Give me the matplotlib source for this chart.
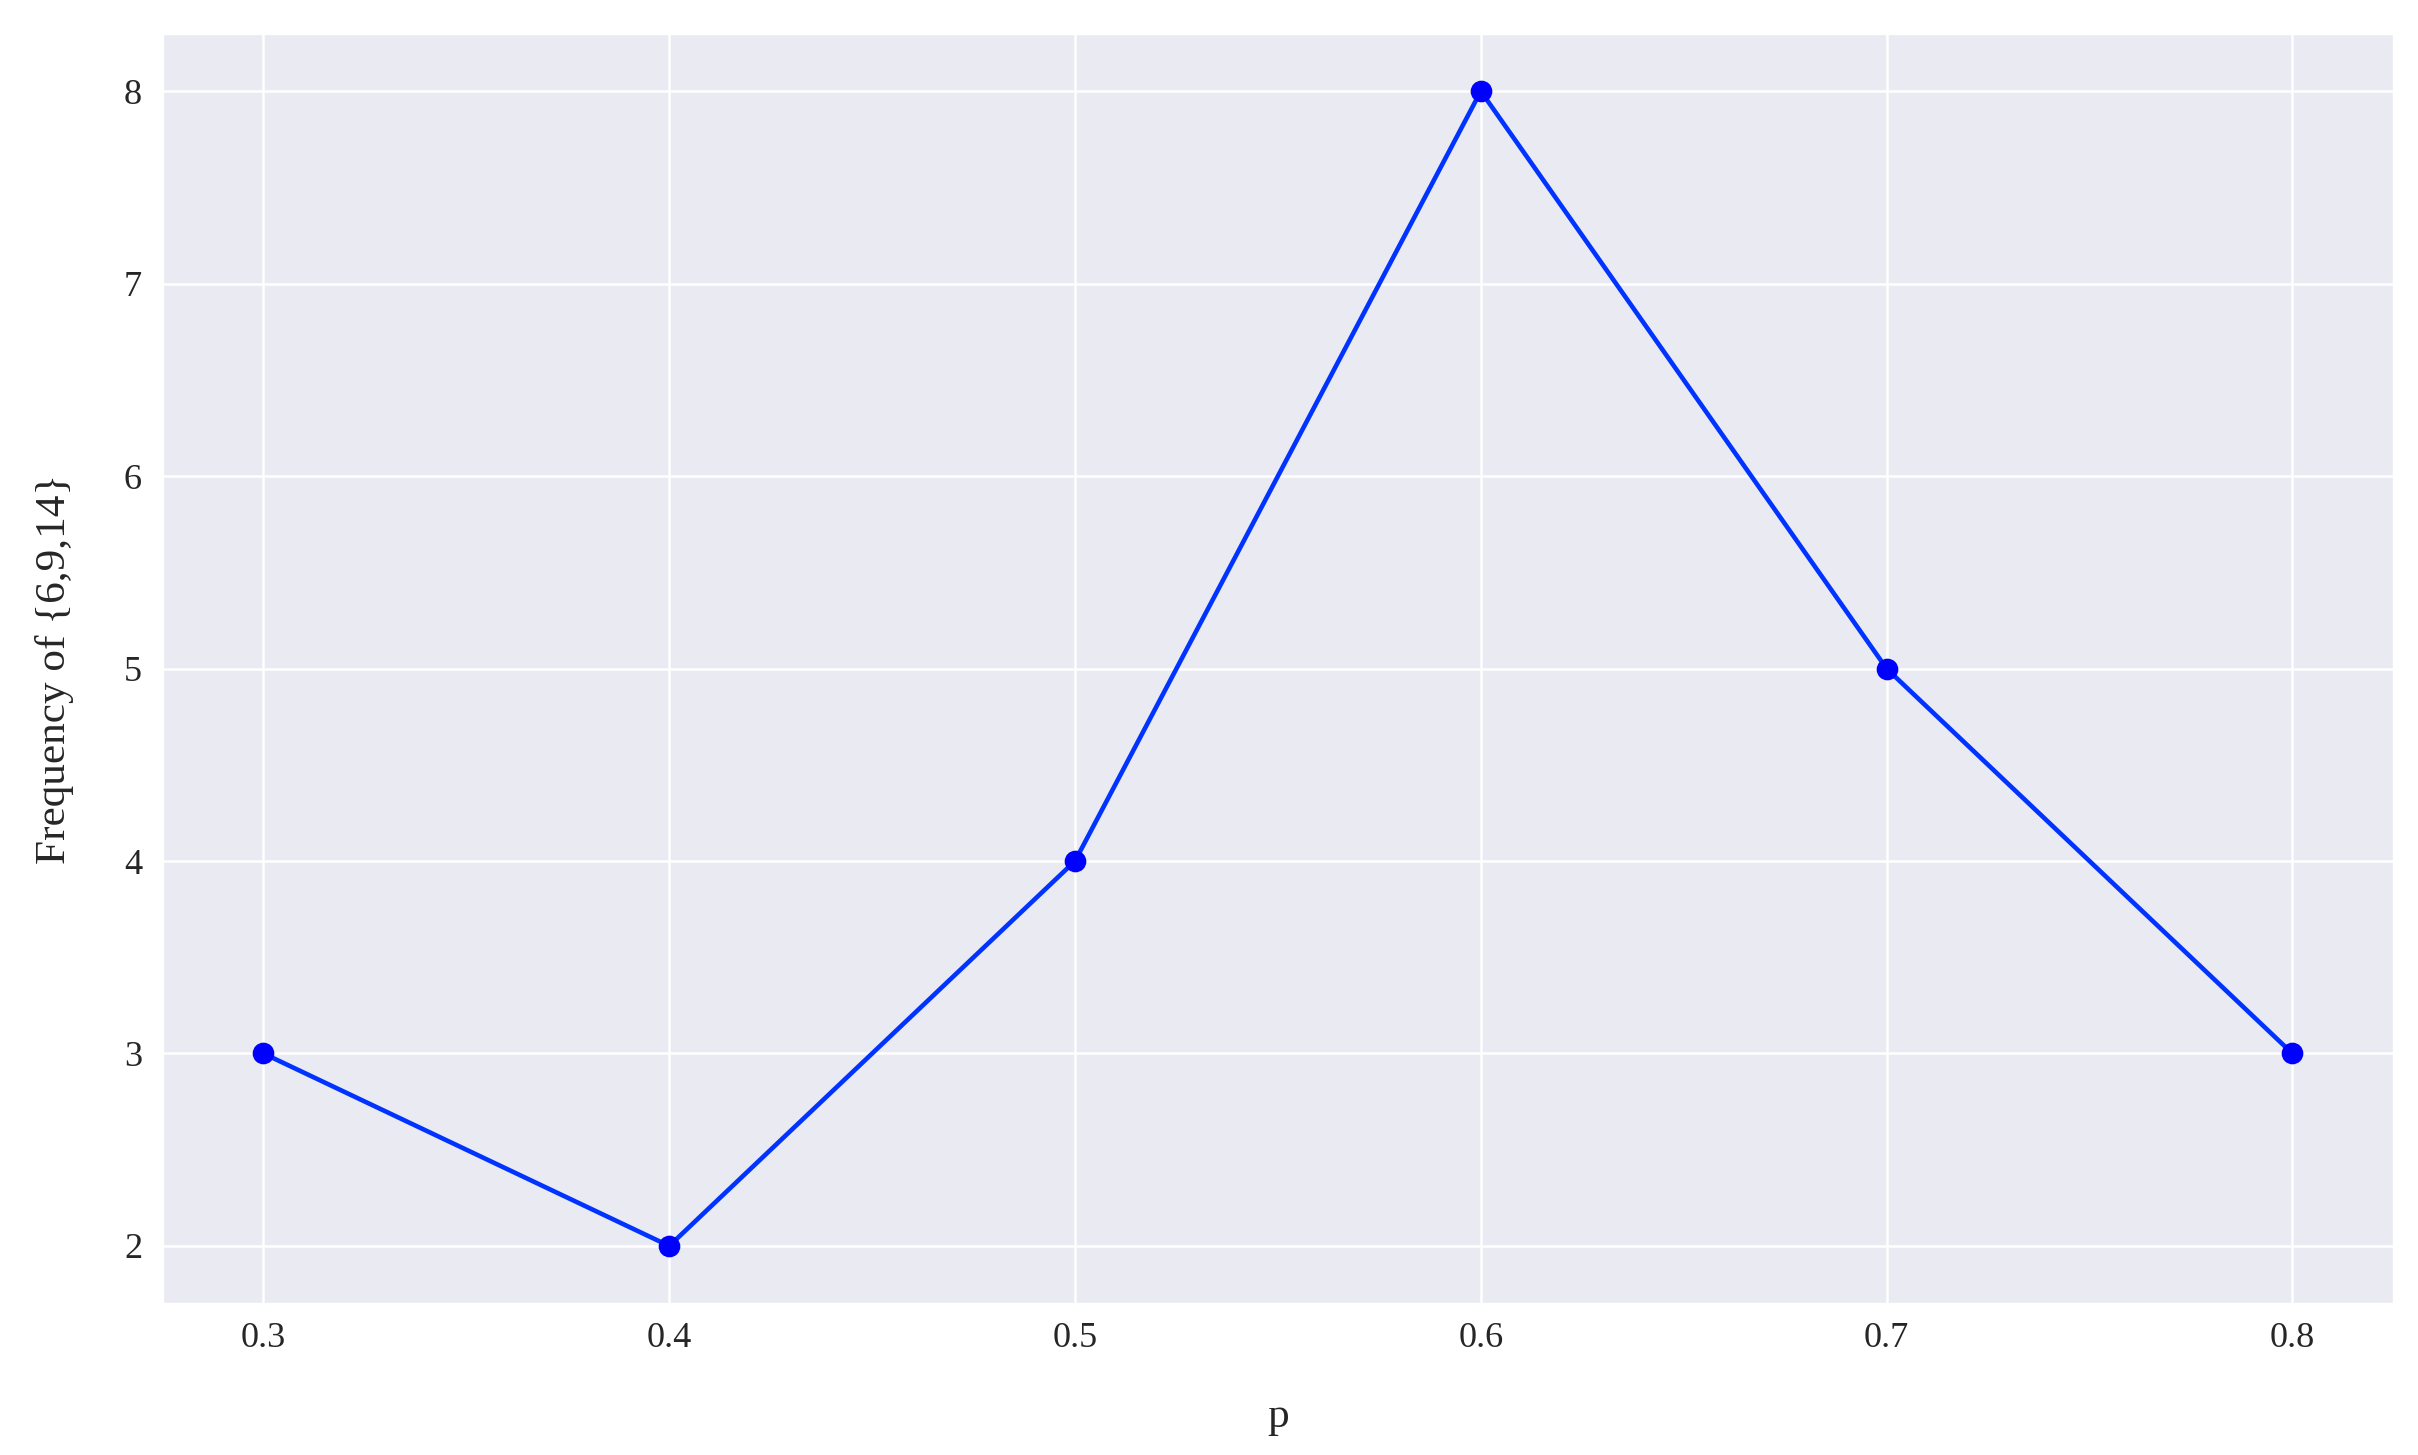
import matplotlib
matplotlib.use('Agg')
import matplotlib.pyplot as plt
import seaborn as sns

# Values
p_values = [0.3, 0.4, 0.5, 0.6, 0.7, 0.8]
frequency = [3, 2, 4, 8, 5, 3]
p_labels = ['0.3', '0.4', '0.5', '0.6', '0.7', '0.8']

sns.set_style('darkgrid')
plt.rcParams['font.family'] = ['Liberation Serif', 'DejaVu Serif']

fig, ax = plt.subplots(figsize=(8.06, 4.85), dpi=300)
fig.subplots_adjust(left=0.067, right=0.990, top=0.977, bottom=0.104)

ax.plot(p_values, frequency, color='#0033ff', linewidth=1.1, zorder=2)
ax.plot(p_values, frequency, 'o', color='blue', markersize=4.2, zorder=3)

ax.set_xticks(p_values)
ax.set_xticklabels(p_labels)
ax.tick_params(labelsize=8.7, colors='.15', length=0)
ax.tick_params(axis='x', pad=4.5)
ax.tick_params(axis='y', pad=4.8)
ax.grid(linewidth=0.6)

ax.set_xlabel('p', fontsize=10.4, color='.15', labelpad=10)
ax.set_ylabel('Frequency of {6,9,14}', fontsize=10.4, color='.15', labelpad=12)

fig.savefig('out.png', dpi=300)
